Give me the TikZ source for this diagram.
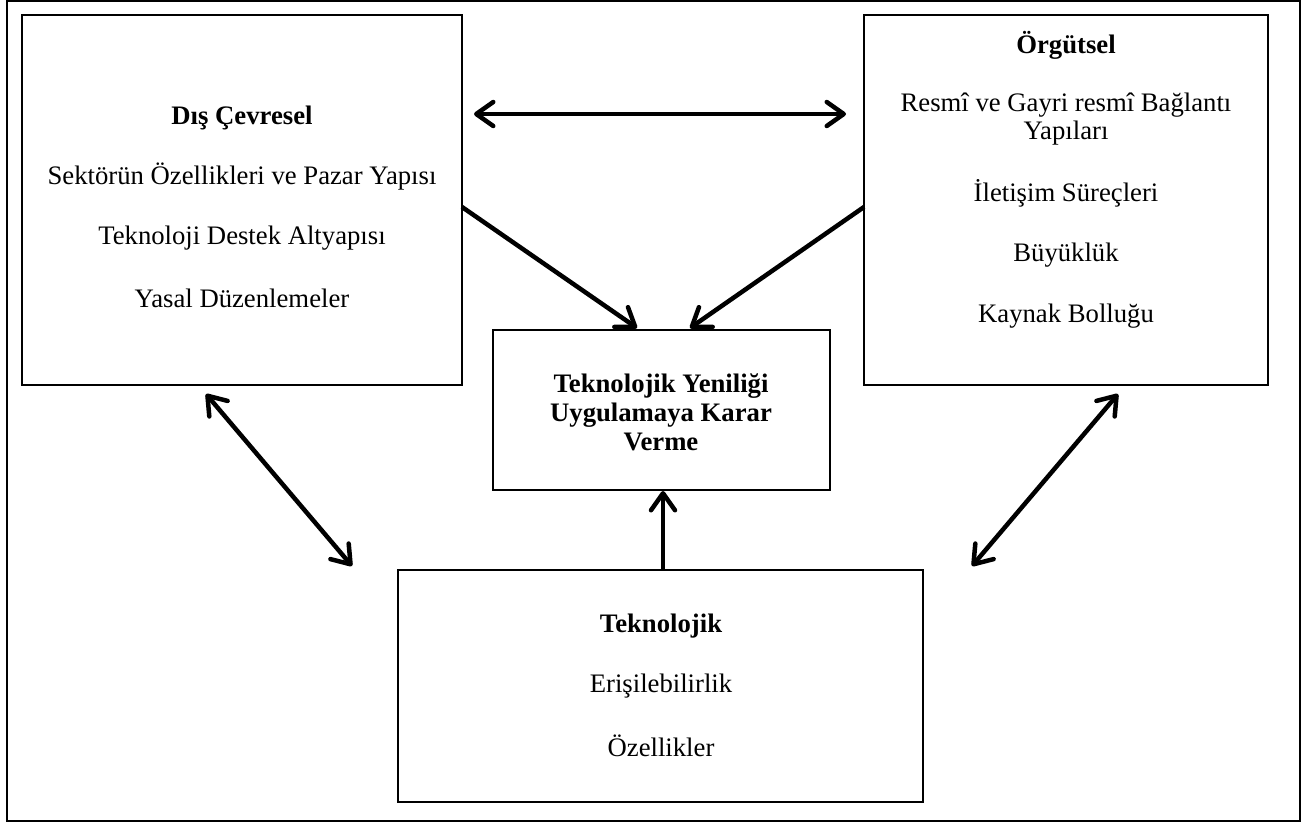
\documentclass[tikz,border=0pt]{standalone}
\usepackage{fontspec}
\setmainfont{Liberation Serif}
\usetikzlibrary{arrows.meta}
\begin{document}
\begin{tikzpicture}[x=1bp,y=-1bp,
  box/.style={draw=black,line width=2bp,inner sep=0pt},
  txt/.style={inner sep=0pt,font=\fontsize{26.8}{28}\selectfont,align=center},
  btxt/.style={txt,font=\fontsize{26.8}{29}\selectfont\bfseries},
  arr/.style={line width=4.5bp,-{Straight Barb[length=17bp,width=24bp,round]}},
  darr/.style={line width=4.5bp,{Straight Barb[length=17bp,width=24bp,round]}-{Straight Barb[length=17bp,width=24bp,round]}}]
\useasboundingbox (0,0) rectangle (1302,825);
\draw[line width=1.5bp] (7,1) rectangle (1300,821);
% boxes
\draw[box] (22,15) rectangle (462,385);
\draw[box] (864,15) rectangle (1268,385);
\draw[box] (493,330) rectangle (830,490);
\draw[box] (398,570) rectangle (923,802);
% left box texts
\node[btxt] (l1) at (242,118) {Dış Çevresel};
\node[txt] (l2) at (242,177) {Sektörün Özellikleri ve Pazar Yapısı};
\node[txt] (l3) at (242,238) {Teknoloji Destek Altyapısı};
\node[txt] (l4) at (242,298) {Yasal Düzenlemeler};
% right box texts
\node[btxt] (r1) at (1066,45) {Örgütsel};
\node[txt] (r2) at (1066,119) {Resmî ve Gayri resmî Bağlantı\\Yapıları};
\node[txt] (r3) at (1066,193) {İletişim Süreçleri};
\node[txt] (r4) at (1066,255) {Büyüklük};
\node[txt] (r5) at (1066,316) {Kaynak Bolluğu};
% center
\node[btxt] (c1) at (661,412) {Teknolojik Yeniliği\\Uygulamaya Karar\\Verme};
% bottom
\node[btxt] (b1) at (661,626) {Teknolojik};
\node[txt] (b2) at (661,686) {Erişilebilirlik};
\node[txt] (b3) at (661,746) {Özellikler};
% arrow end points
\coordinate (hA) at (474,114);
\coordinate (hB) at (846,114);
\coordinate (dlA) at (462,207);
\coordinate (dlB) at (637,328);
\coordinate (drA) at (864,207);
\coordinate (drB) at (690,328);
\coordinate (vA) at (663,570);
\coordinate (vB) at (663,491);
\coordinate (llA) at (206,394);
\coordinate (llB) at (352,566);
\coordinate (rlA) at (1118,394);
\coordinate (rlB) at (972,566);
\draw[darr] (hA) -- (hB);
\draw[arr] (dlA) -- (dlB);
\draw[arr] (drA) -- (drB);
\draw[arr] (vA) -- (vB);
\draw[darr] (llA) -- (llB);
\draw[darr] (rlA) -- (rlB);
\end{tikzpicture}
\end{document}
